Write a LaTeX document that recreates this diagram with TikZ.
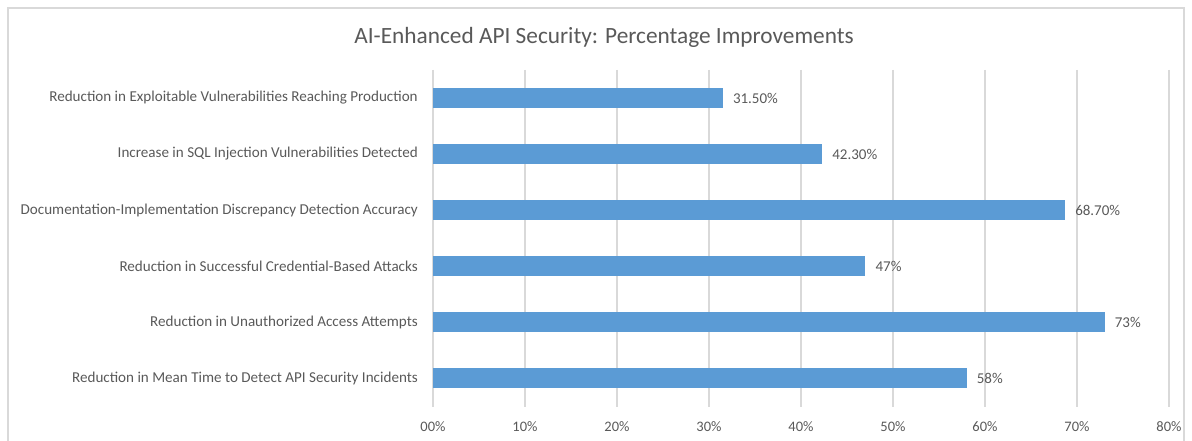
\documentclass[tikz,border=0pt]{standalone}
\usepackage{fontspec}
\setmainfont{Carlito}

\definecolor{barblue}{HTML}{5B9BD5}
\definecolor{gridgray}{HTML}{D9D9D9}
\definecolor{textgray}{HTML}{595959}

\begin{document}
\begin{tikzpicture}[x=1pt, y=-1pt,
    catlabel/.style={anchor=east, text=textgray, inner sep=0pt, font=\fontsize{15.1}{17}\selectfont},
    vallabel/.style={anchor=west, text=textgray, inner sep=0pt, font=\fontsize{15}{17}\selectfont},
    ticklabel/.style={anchor=center, text=textgray, inner sep=0pt, font=\fontsize{14.5}{17}\selectfont},
    gridline/.style={draw=gridgray, line width=1.2pt}]
    \useasboundingbox (0,0) rectangle (1192,441);

    % Frame of the chart area (open at the bottom)
    \draw[gridgray, line width=1.2pt] (8,441) -- (8,8) -- (1184,8) -- (1184,441);

    % Title
    \node[text=textgray, font=\fontsize{23.3}{27}\selectfont] (title) at (604,37) {AI-Enhanced API Security: Percentage Improvements};

    % Vertical gridlines and tick labels
    \foreach \i in {0,...,8} {
        \draw[gridline] (433+92*\i,70) -- (433+92*\i,407);
        \node[ticklabel] (tick\i) at (433+92*\i,427) {\i0\%};
    }

    % Bars with category and value labels
    \foreach \k/\v/\lbl/\txt in {
        0/31.5/Reduction in Exploitable Vulnerabilities Reaching Production/31.50\%,
        1/42.3/Increase in SQL Injection Vulnerabilities Detected/42.30\%,
        2/68.7/Documentation-Implementation Discrepancy Detection Accuracy/68.70\%,
        3/47/Reduction in Successful Credential-Based Attacks/47\%,
        4/73/Reduction in Unauthorized Access Attempts/73\%,
        5/58/Reduction in Mean Time to Detect API Security Incidents/58\%} {
        \fill[barblue] (433,88+56*\k) rectangle (433+9.2*\v,108+56*\k);
        \node[catlabel] (cat\k) at (418,98+56*\k) {\lbl};
        \node[vallabel] (val\k) at (433+9.2*\v+10,98+56*\k) {\txt};
    }
\end{tikzpicture}
\end{document}
